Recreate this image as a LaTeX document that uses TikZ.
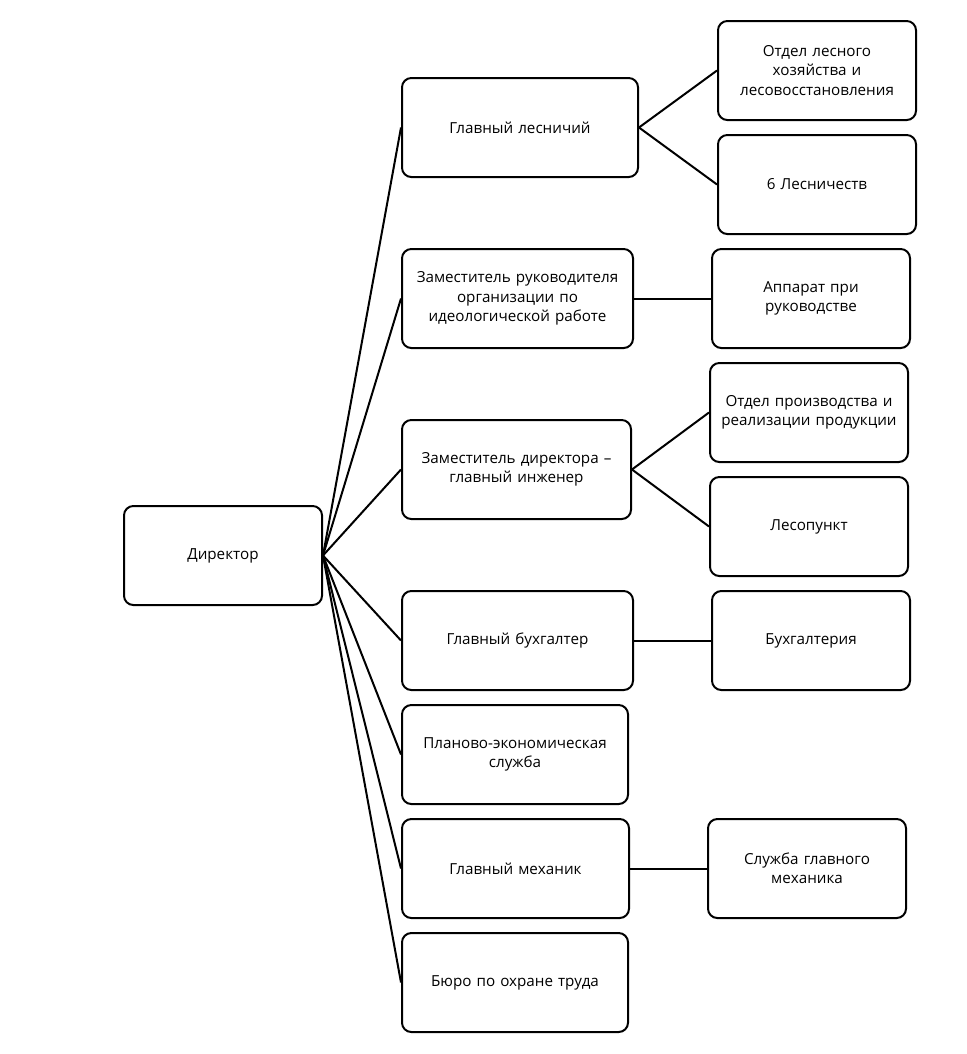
\documentclass[tikz,border=0pt]{standalone}
\usepackage{fontspec}
\setmainfont{Open Sans}
\begin{document}
\begin{tikzpicture}[x=0.75pt,y=-0.75pt,
  box/.style={draw=black,line width=1.5pt,rounded corners=7pt,align=center,
    font=\fontsize{11.4}{14.6}\selectfont,inner sep=2pt},
  conn/.style={draw=black,line width=1.5pt}]
\useasboundingbox (0,0) rectangle (967,1054);
\newcommand{\bx}[6]{\node[box,minimum width={(#4-#2)*0.75pt},minimum height={(#5-#3)*0.75pt},text width={(#4-#2)*0.75pt-6pt}] (#1) at ({(#2+#4)/2},{(#3+#5)/2}) {#6};}
\bx{dir}{124}{506}{322}{605}{Директор}
\bx{gl}{402}{78}{638}{177}{Главный лесничий}
\bx{olh}{718}{21}{916}{120}{Отдел лесного\\хозяйства и\\лесовосстановления}
\bx{les}{718}{135}{916}{234}{6 Лесничеств}
\bx{zr}{402}{249}{633}{348}{Заместитель руководителя\\организации по\\идеологической работе}
\bx{app}{712}{249}{910}{348}{Аппарат при\\руководстве}
\bx{zd}{402}{420}{631}{519}{Заместитель директора –\\главный инженер}
\bx{opr}{710}{363}{908}{462}{Отдел производства и\\реализации продукции}
\bx{lp}{710}{477}{908}{576}{Лесопункт}
\bx{gb}{402}{591}{633}{690}{Главный бухгалтер}
\bx{bh}{712}{591}{910}{690}{Бухгалтерия}
\bx{pe}{402}{705}{628}{804}{Планово-экономическая\\служба}
\bx{gm}{402}{819}{629}{918}{Главный механик}
\bx{sgm}{708}{819}{906}{918}{Служба главного\\механика}
\bx{bot}{402}{933}{628}{1032}{Бюро по охране труда}
\foreach \m in {gl,zr,zd,gb,pe,gm,bot}{\draw[conn] (dir.east) -- (\m.west);}
\draw[conn] (gl.east) -- (olh.west);
\draw[conn] (gl.east) -- (les.west);
\draw[conn] (zr.east) -- (app.west);
\draw[conn] (zd.east) -- (opr.west);
\draw[conn] (zd.east) -- (lp.west);
\draw[conn] (gb.east) -- (bh.west);
\draw[conn] (gm.east) -- (sgm.west);
\end{tikzpicture}
\end{document}
